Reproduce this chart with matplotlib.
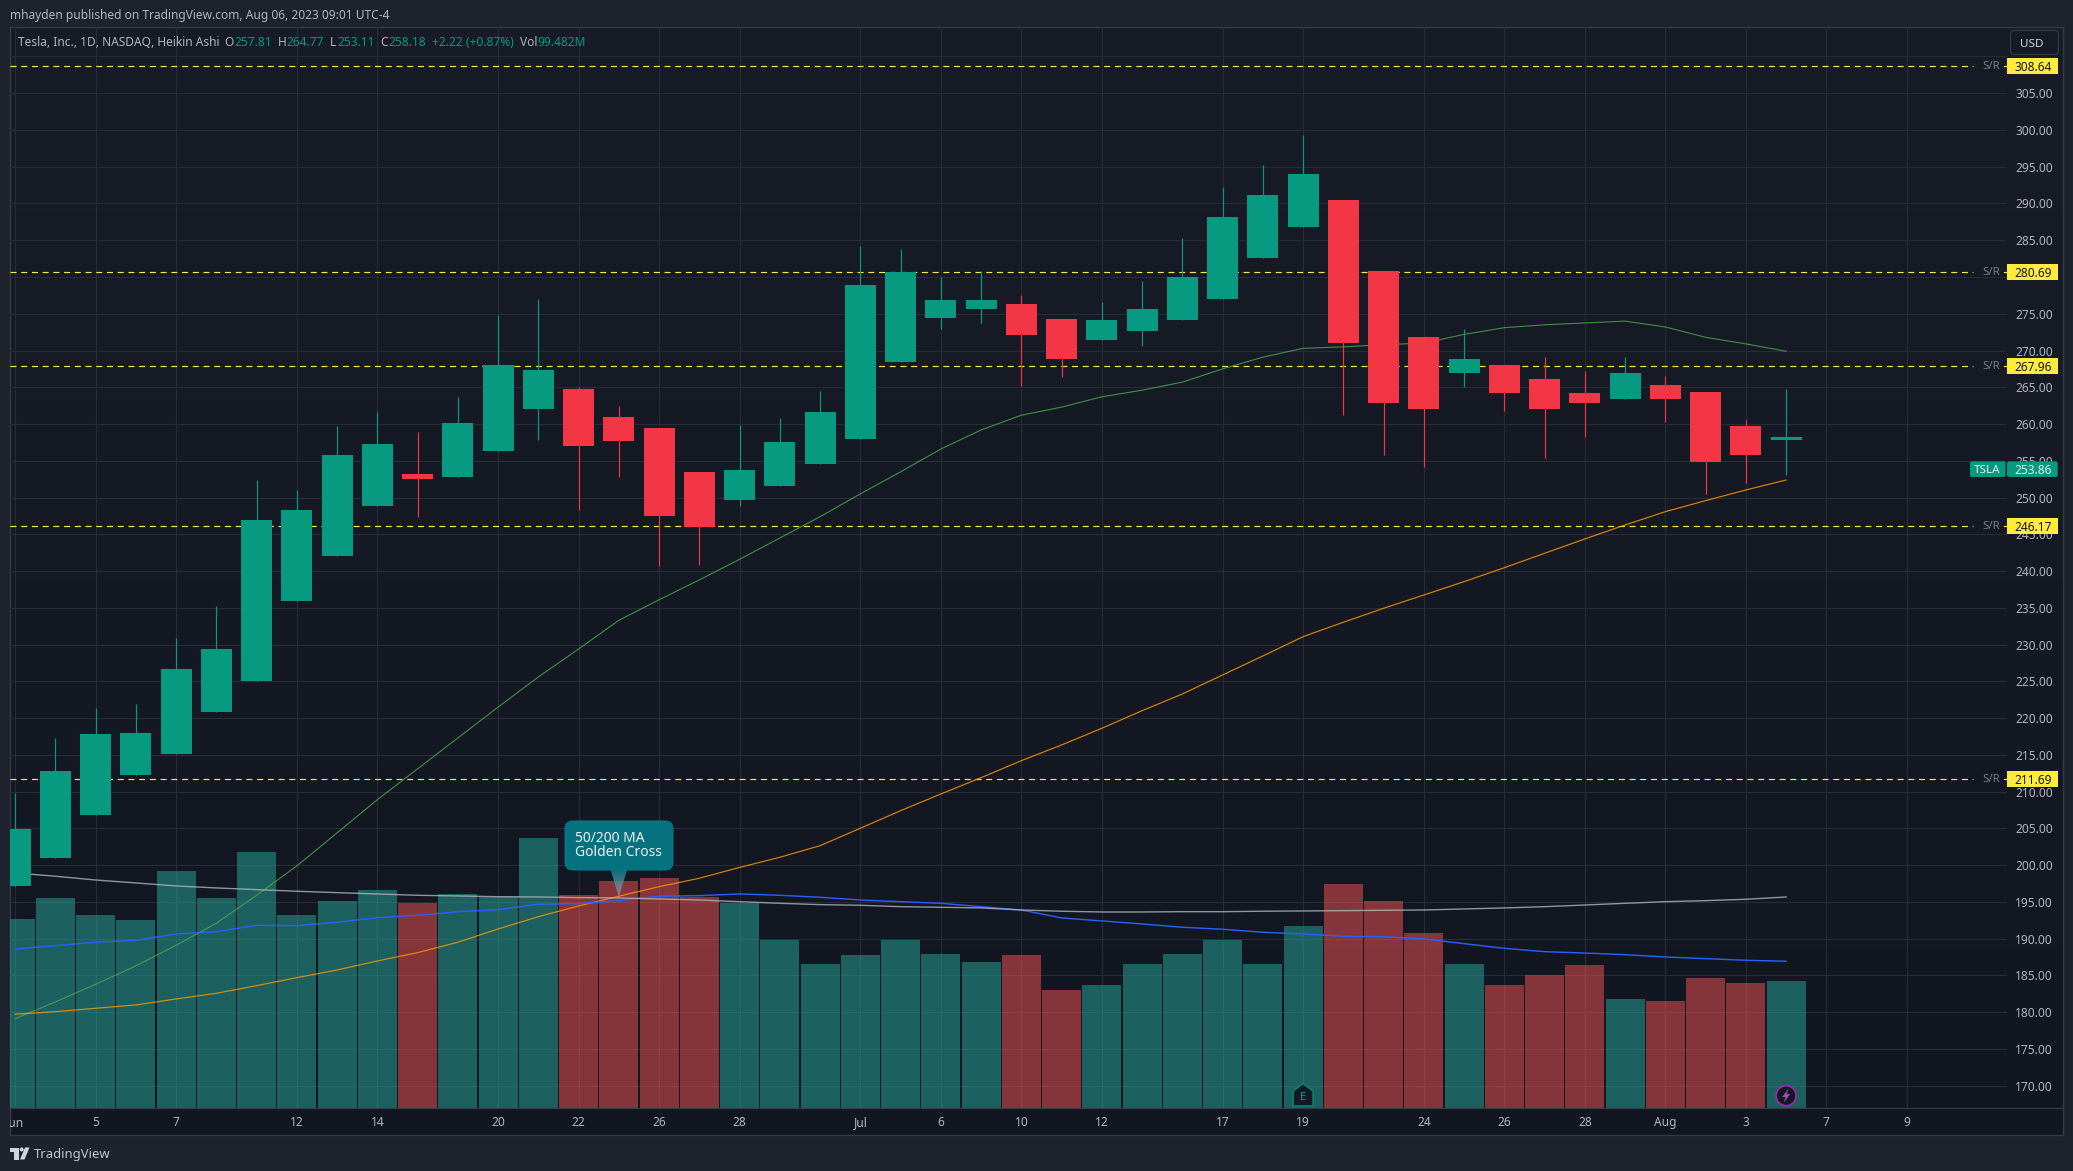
import numpy as np
import matplotlib
matplotlib.use("Agg")
import matplotlib.pyplot as plt
from matplotlib.patches import FancyBboxPatch, Polygon, Rectangle, Circle
from matplotlib.lines import Line2D
from matplotlib.transforms import Bbox

# =====================================================
# Data
# =====================================================

tick_pos = [0, 2, 4, 7, 9, 12, 14, 16, 18, 21, 23, 25, 27, 30, 32, 35, 37, 39, 41, 43, 45, 47]
tick_labels = ["Jun", "5", "7", "12", "14", "20", "22", "26", "28", "Jul", "6", "10", "12",
               "17", "19", "24", "26", "28", "Aug", "3", "7", "9"]

opens = [197.21, 201.02, 206.87, 212.31, 215.17, 220.88, 225.05, 235.98, 242.10, 248.90,
         253.20, 252.79, 256.33, 262.04, 264.76, 260.95, 259.46, 253.47, 249.67, 251.57,
         254.56, 257.96, 268.44, 274.42, 275.65, 276.33, 274.29, 271.43, 272.65, 274.15,
         277.01, 282.58, 286.80, 290.47, 280.82, 271.84, 266.94, 268.03, 266.13, 264.22,
         263.41, 265.31, 264.36, 259.73, 257.81]
closes = [204.92, 212.80, 217.84, 217.98, 226.68, 229.40, 246.95, 248.31, 255.79, 257.29,
          252.52, 260.14, 268.03, 267.35, 257.01, 257.69, 247.49, 245.99, 253.75, 257.55,
          261.63, 278.91, 280.68, 276.87, 276.87, 272.11, 268.85, 274.15, 275.65, 280.00,
          288.16, 291.15, 294.01, 271.02, 262.86, 262.05, 268.85, 264.22, 262.05, 262.86,
          266.94, 263.41, 254.84, 255.79, 258.18]
highs = [209.81, 217.30, 221.38, 221.92, 230.90, 235.25, 252.39, 251.03, 259.73, 261.64,
         258.92, 263.68, 274.83, 277.00, 265.03, 262.45, 259.46, 253.47, 259.87, 260.82,
         264.49, 284.21, 283.80, 280.00, 280.82, 277.55, 274.29, 276.60, 279.46, 285.30,
         292.24, 295.23, 299.31, 290.47, 280.82, 271.84, 272.93, 268.03, 269.12, 267.22,
         269.12, 266.53, 264.36, 260.55, 264.77]
lows = [197.21, 201.02, 206.87, 212.31, 215.17, 220.88, 225.05, 235.98, 242.10, 248.90,
        247.40, 252.79, 256.33, 257.83, 248.31, 252.79, 240.69, 240.82, 248.85, 251.57,
        254.56, 257.96, 268.44, 272.93, 273.74, 265.17, 266.40, 271.43, 270.61, 274.15,
        277.01, 282.58, 286.80, 261.23, 255.79, 254.16, 265.04, 261.77, 255.38, 258.24,
        263.41, 260.28, 250.48, 251.98, 253.11]

# volume in millions
volumes = [148.0, 164.5, 151.2, 147.3, 185.6, 164.5, 200.5, 151.2, 162.2, 170.8,
           160.6, 167.6, 165.3, 211.5, 166.8, 177.8, 180.2, 165.3, 160.3, 131.6,
           112.8, 119.8, 131.6, 120.6, 114.4, 119.8, 92.4, 96.3, 112.8, 120.6,
           131.6, 112.8, 142.6, 175.5, 162.2, 137.1, 112.8, 96.3, 104.2, 112.0,
           85.4, 83.8, 101.8, 97.9, 99.5]

ma20 = [179.1, 181.4, 183.8, 186.3, 189.1, 192.1, 195.9, 199.9, 204.4, 208.9,
        213.1, 217.3, 221.5, 225.6, 229.4, 233.3, 236.1, 238.8, 241.6, 244.5,
        247.4, 250.5, 253.5, 256.6, 259.2, 261.2, 262.3, 263.7, 264.6, 265.7,
        267.5, 269.1, 270.3, 270.5, 270.8, 271.0, 272.2, 273.1, 273.5, 273.75,
        274.0, 273.2, 271.8, 270.9, 269.9]
ma50 = [179.72, 180.07, 180.53, 180.98, 181.8, 182.57, 183.61, 184.7, 185.74, 186.97,
        188.1, 189.51, 191.32, 192.99, 194.45, 195.77, 197.07, 198.22, 199.69, 201.07,
        202.65, 205.02, 207.41, 209.68, 211.9, 214.21, 216.35, 218.62, 221.01, 223.28,
        225.87, 228.45, 231.08, 233.04, 234.94, 236.75, 238.56, 240.46, 242.42, 244.37,
        246.27, 248.08, 249.58, 251.03, 252.39]
ma100 = [188.6, 189.05, 189.51, 189.78, 190.64, 190.95, 191.82, 191.77, 192.23, 192.86,
         193.18, 193.67, 193.95, 194.68, 194.76, 195.17, 195.77, 195.85, 196.08, 195.9,
         195.63, 195.26, 195.03, 194.81, 194.35, 193.9, 192.82, 192.41, 192.0, 191.55,
         191.28, 190.87, 190.64, 190.33, 190.27, 189.96, 189.32, 188.69, 188.23, 188.05,
         187.82, 187.51, 187.28, 187.06, 186.93]
ma200 = [198.94, 198.49, 197.98, 197.58, 197.17, 196.9, 196.67, 196.45, 196.26, 196.08,
         195.9, 195.81, 195.71, 195.67, 195.58, 195.54, 195.4, 195.26, 195.03, 194.81,
         194.63, 194.54, 194.35, 194.27, 194.18, 193.9, 193.73, 193.63, 193.63, 193.67,
         193.67, 193.73, 193.77, 193.81, 193.86, 193.9, 194.04, 194.18, 194.35, 194.58,
         194.81, 195.03, 195.17, 195.36, 195.67]

sr_levels = [308.64, 280.69, 267.96, 246.17, 211.69]
last_price = 253.86

# =====================================================
# Layout (pixels of the 2073x1171 picture)
# =====================================================

W, H = 2073, 1171
plt.rcParams["font.family"] = ["Noto Sans", "DejaVu Sans"]
plt.rcParams["lines.scale_dashes"] = False

GREEN = "#089981"
RED = "#f23645"
YELLOW = "#ffeb3b"
GREY = "#b2b5be"
GRID = "#282c37"
BORDER = "#363a45"
OUTER = "#1e222d"

L, R, T, B = 9.5, 2007, 26.5, 1108
RIGHT, BOTTOM = 2062.7, 1135


def rect(x0, y0, x1, y1):
    return [x0/W, 1-y1/H, (x1-x0)/W, (y1-y0)/H]


fig = plt.figure(figsize=(W/100, H/100), dpi=100, facecolor=OUTER)

# panel background, slightly lighter at the top
ax_bg = fig.add_axes(rect(L, T, RIGHT, BOTTOM), zorder=0)
grad = np.linspace(0, 1, 256).reshape(-1, 1, 1)
top_c = np.array([0x18, 0x1c, 0x27]) / 255
bot_c = np.array([0x12, 0x16, 0x21]) / 255
ax_bg.imshow(top_c*(1-grad)+bot_c*grad, aspect="auto", extent=(0, 1, 0, 1))
ax_bg.set_xticks([])
ax_bg.set_yticks([])
for s in ax_bg.spines.values():
    s.set_color(BORDER)
    s.set_linewidth(1.0)

x = np.arange(len(closes))
up = np.array(closes) >= np.array(opens)
xlim = ((L-15.1)/40.25, (R-15.1)/40.25)
ylim = (170-(B-1085.7)/7.352, 305+(93.2-T)/7.352)

# =====================================================
# Scale and grid, under the volume
# =====================================================

ax = fig.add_axes(rect(L, T, R, B), zorder=1)
ax.patch.set_visible(False)
ax.set_xlim(*xlim)
ax.set_ylim(*ylim)

yt = np.arange(170, 311, 5)
# 280 sits behind its S/R tag and 310 between USD and the tag, no label there
ax.set_yticks(yt, [f"{v:.2f}" if v not in (280, 310) else "" for v in yt])
ax.yaxis.tick_right()
ax.set_xticks(tick_pos, tick_labels)
ax.tick_params(axis="both", length=0, colors=GREY, labelsize=8.6)
ax.tick_params(axis="y", pad=5.8)
ax.tick_params(axis="x", pad=6)
ax.grid(True, color=GRID, linewidth=0.8)
ax.set_axisbelow(True)
for s in ax.spines.values():
    s.set_visible(False)
for lab, txt in zip(ax.get_xticklabels(), tick_labels):
    if txt in ("Jun", "Jul", "Aug"):
        lab.set_fontweight("bold")
    if txt == "Jun":
        lab.set_clip_on(True)
        lab.set_clip_box(Bbox([[L, 0], [R, H]]))

# =====================================================
# Volume
# =====================================================

ax_vol = fig.add_axes(rect(L, T, R, B), zorder=2)
ax_vol.patch.set_visible(False)
ax_vol.axis("off")
ax_vol.bar(x, volumes, width=0.965, color=np.where(up, "#26a69a", "#f05352"), alpha=0.52, linewidth=0)
ax_vol.set_xlim(*xlim)
ax_vol.set_ylim(0, (B-T)/1.2766)

# =====================================================
# Candles, averages and S/R lines
# =====================================================

ax_p = fig.add_axes(rect(L, T, R, B), zorder=3)
ax_p.patch.set_visible(False)
ax_p.axis("off")
ax_p.set_xlim(*xlim)
ax_p.set_ylim(*ylim)

stop = (1973-L)/(R-L)
for lev in sr_levels:
    ax_p.axhline(lev, xmin=0, xmax=stop, color=YELLOW, lw=0.85, dashes=(4.32, 3.4), zorder=1.5)
    ax_p.axhline(lev, xmin=(2003.5-L)/(R-L), xmax=1, color=YELLOW, lw=0.85, zorder=1.5)

ax_p.plot(x, ma20, color="#4caf50", lw=0.8, alpha=0.8, zorder=3)
ax_p.plot(x, ma50, color="#ff9800", lw=0.85, alpha=0.85, zorder=3)
ax_p.plot(x, ma100, color="#2962ff", lw=1.0, zorder=3)
ax_p.plot(x, ma200, color="#b2b5be", lw=1.0, alpha=0.8, zorder=3)

colors = np.where(up, GREEN, RED)
ax_p.vlines(x, lows, highs, color=colors, lw=0.85, zorder=4)
body_h = np.abs(np.array(closes)-np.array(opens))
body_b = np.minimum(opens, closes)
ax_p.bar(x, body_h, bottom=body_b, width=0.77, color=colors, linewidth=0, zorder=5)

# =====================================================
# Right hand price tags
# =====================================================

to_px = ax.transData.transform
overlay = fig.add_axes([0, 0, 1, 1], zorder=4)
overlay.set_xlim(0, W)
overlay.set_ylim(H, 0)
overlay.axis("off")
overlay.patch.set_visible(False)


def price_y(p):
    return H-to_px((0, p))[1]


for lev in sr_levels:
    y = price_y(lev)
    overlay.add_patch(Rectangle((2007, y-8), 50.7, 16, facecolor=YELLOW, edgecolor="none"))
    overlay.text(2033.5, y, f"{lev:.2f}", color="#131722", fontsize=8.6, ha="center", va="center_baseline")
    overlay.text(1990.7, y-1, "S/R", color="#787b86", fontsize=8.2, ha="center", va="center_baseline")

y = price_y(last_price)
overlay.add_patch(FancyBboxPatch((1970, y-7.8), 35.6, 15.6, boxstyle="round,pad=0,rounding_size=2",
                                 facecolor=GREEN, edgecolor="none"))
overlay.add_patch(FancyBboxPatch((2007, y-7.8), 50.7, 15.6, boxstyle="round,pad=0,rounding_size=2",
                                 facecolor=GREEN, edgecolor="none"))
overlay.text(1987.5, y, "TSLA", color="#e8eaf0", fontsize=8.4, ha="center", va="center_baseline")
overlay.text(2033.5, y, f"{last_price:.2f}", color="#e8eaf0", fontsize=8.6, ha="center", va="center_baseline")

overlay.add_patch(FancyBboxPatch((2010.5, 30.5), 48, 24, boxstyle="round,pad=0,rounding_size=4",
                                 facecolor="#161a25", edgecolor=BORDER, lw=0.9))
overlay.text(2032, 43, "USD", color="#d1d4dc", fontsize=8.4, ha="center", va="center_baseline")

# axis rule under the pane
overlay.add_line(Line2D([L, RIGHT], [B, B], color=BORDER, lw=0.9))

# =====================================================
# Golden cross callout
# =====================================================

gx = to_px((15, 0))[0]
gy = price_y(ma50[15])+0.5
overlay.add_patch(FancyBboxPatch((565, 821), 108, 49, boxstyle="round,pad=0,rounding_size=8",
                                 facecolor="#06717f", edgecolor="#0a7a8a", lw=0.7, zorder=6))

# pointer fades from the box colour to grey at the tip
fade = np.zeros((64, 1, 4))
fade[:, 0, :3] = np.linspace(0, 1, 64).reshape(-1, 1)*np.array([0.62, 0.66, 0.70]) \
    + np.linspace(1, 0, 64).reshape(-1, 1)*np.array([0.024, 0.443, 0.498])
fade[:, 0, 3] = np.linspace(1.0, 0.6, 64)
pointer = Polygon([[gx-8.5, 869], [gx+8.5, 869], [gx, gy]], closed=True, transform=overlay.transData)
im = overlay.imshow(fade, extent=(gx-9, gx+9, gy, 869), aspect="auto", zorder=6)
im.set_clip_path(pointer)
overlay.set_xlim(0, W)
overlay.set_ylim(H, 0)

overlay.text(575, 837, "50/200 MA", color="#eceff3", fontsize=10, va="center_baseline", zorder=7)
overlay.text(575, 851, "Golden Cross", color="#eceff3", fontsize=10, va="center_baseline", zorder=7)

# =====================================================
# Event markers
# =====================================================

ex = to_px((32, 0))[0]
overlay.add_patch(Polygon([[ex-10, 1091], [ex, 1083.5], [ex+10, 1091], [ex+10, 1106], [ex-10, 1106]],
                          closed=True, facecolor="#0e1a24", edgecolor="#0a7f6e", lw=1.2, zorder=6))
overlay.text(ex, 1096, "E", color="#10a48c", fontsize=8, fontweight="bold", ha="center",
             va="center_baseline", zorder=7)

dx = to_px((44, 0))[0]
overlay.add_patch(Circle((dx, 1095.7), 10, facecolor="#131722", edgecolor="#9c27b0", lw=1.3, zorder=6))
overlay.add_patch(Polygon([[dx+2.5, 1088.5], [dx-4, 1097], [dx-0.5, 1097], [dx-2.5, 1103],
                           [dx+4, 1094], [dx+0.5, 1094]],
                          closed=True, facecolor="#ab47bc", edgecolor="none", zorder=7))

# =====================================================
# Header, legend, footer
# =====================================================

overlay.text(10, 14.5, "mhayden published on TradingView.com, Aug 06, 2023 09:01 UTC-4",
             color=GREY, fontsize=8.6, va="center_baseline")

legend_y = 41.5
legend_bits = [
    (18, "Tesla, Inc., 1D, NASDAQ, Heikin Ashi", GREY),
    (224.5, "O", GREY), (234, "257.81", GREEN),
    (277.7, "H", GREY), (286.6, "264.77", GREEN),
    (330, "L", GREY), (337, "253.11", GREEN),
    (380, "C", GREY), (388, "258.18", GREEN),
    (431.7, "+2.22 (+0.87%)", GREEN),
    (519.6, "Vol", GREY), (537, "99.482M", GREEN),
]
for lx, txt, col in legend_bits:
    overlay.text(lx, legend_y, txt, color=col, fontsize=8.6, va="center_baseline")

# TradingView logo
logo = "#d1d4dc"
overlay.add_patch(Rectangle((10, 1147.5), 9, 4, facecolor=logo, edgecolor="none"))
overlay.add_patch(Rectangle((14, 1147.5), 5, 12, facecolor=logo, edgecolor="none"))
overlay.add_patch(Circle((21.7, 1149.5), 2, facecolor=logo, edgecolor="none"))
overlay.add_patch(Polygon([[25, 1147.5], [29.5, 1147.5], [24.5, 1159.5], [20, 1159.5]],
                          closed=True, facecolor=logo, edgecolor="none"))
overlay.text(34, 1153, "TradingView", color="#c2c5ce", fontsize=9.4, va="center_baseline")

fig.savefig("out.png", dpi=100, facecolor=OUTER)
plt.close(fig)
